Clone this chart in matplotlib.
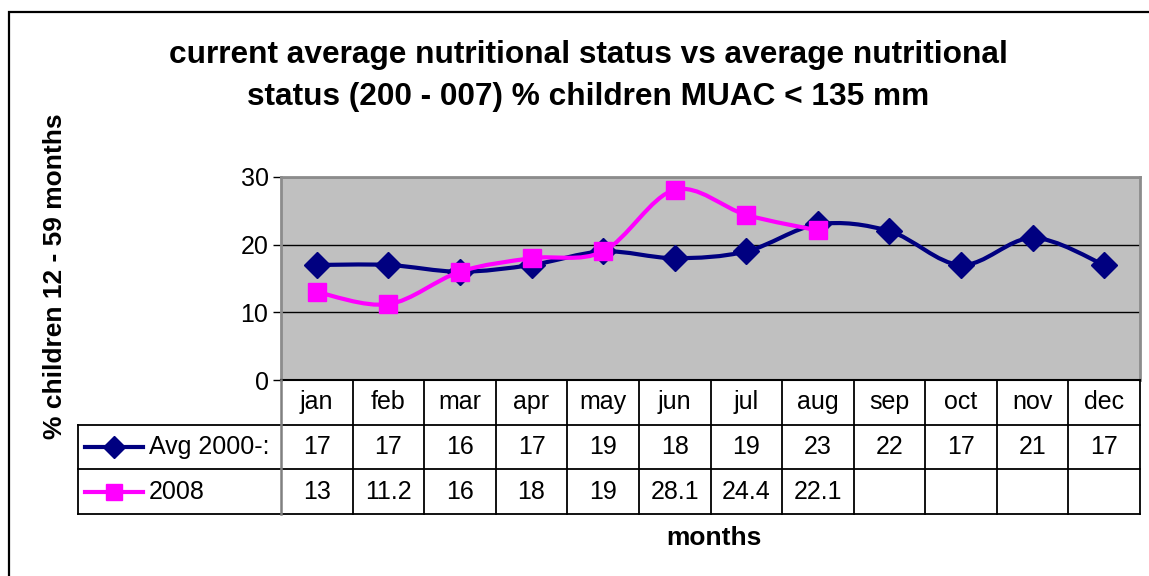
import matplotlib.pyplot as plt
import numpy as np
from matplotlib.path import Path
from matplotlib.patches import PathPatch, Rectangle
from matplotlib.lines import Line2D

plt.rcParams['font.family'] = ['Liberation Sans', 'DejaVu Sans']

months = ['jan', 'feb', 'mar', 'apr', 'may', 'jun', 'jul', 'aug', 'sep', 'oct', 'nov', 'dec']
avg_label = 'Avg 2000-:'
avg = [17, 17, 16, 17, 19, 18, 19, 23, 22, 17, 21, 17]
y2008_label = '2008'
y2008 = [13, 11.2, 16, 18, 19, 28.1, 24.4, 22.1]
yticks = [0, 10, 20, 30]

title = 'current average nutritional status vs average nutritional\nstatus (200 - 007) % children MUAC < 135 mm'
ylabel = '% children 12 - 59 months'
xlabel = 'months'

NAVY = '#000080'
MAG = '#FF00FF'
FS = 18

W, H = 1149, 576
fig = plt.figure(figsize=(W / 100, H / 100), dpi=100)

# outer frame (right and bottom run off the image)
fig.patches.append(Rectangle((9 / W, -0.1), 1.2, 1 - 12 / H + 0.1, transform=fig.transFigure,
                             fill=False, edgecolor='black', linewidth=1.6, clip_on=False))

# plot area in pixels
L, R, T, B = 281, 1140, 177, 380
ax = fig.add_axes([L / W, 1 - B / H, (R - L) / W, (B - T) / H])
ax.set_facecolor('#C0C0C0')
ax.set_xlim(-0.5, len(months) - 0.5)
ax.set_ylim(0, 30)
ax.set_yticks(yticks)
ax.set_yticklabels([str(t) for t in yticks], fontsize=FS)
ax.set_xticks([])
ax.tick_params(axis='y', length=6, width=1, pad=3, direction='out')
for y in yticks[1:]:
    ax.axhline(y, color='black', lw=1, zorder=1)
for s in ['top', 'right', 'left']:
    ax.spines[s].set_color('#8c8c8c')
    ax.spines[s].set_linewidth(2)
ax.spines['bottom'].set_color('black')
ax.spines['bottom'].set_linewidth(1.5)


def smooth_path(xs, ys):
    pts = np.column_stack([xs, ys]).astype(float)
    n = len(pts)
    verts = [pts[0]]
    codes = [Path.MOVETO]
    for i in range(n - 1):
        p0 = pts[max(i - 1, 0)]
        p1 = pts[i]
        p2 = pts[i + 1]
        p3 = pts[min(i + 2, n - 1)]
        c1 = p1 + (p2 - p0) / 6
        c2 = p2 - (p3 - p1) / 6
        verts += [c1, c2, p2]
        codes += [Path.CURVE4] * 3
    return Path(verts, codes)


x_avg = np.arange(len(avg))
x_08 = np.arange(len(y2008))
ax.add_patch(PathPatch(smooth_path(x_avg, avg), fill=False, edgecolor=NAVY, lw=3, zorder=3,
                       capstyle='round', joinstyle='round'))
ax.plot(x_avg, avg, ls='none', marker='D', ms=13.5, color=NAVY, zorder=4)
ax.add_patch(PathPatch(smooth_path(x_08, y2008), fill=False, edgecolor=MAG, lw=3, zorder=5,
                       capstyle='round', joinstyle='round'))
ax.plot(x_08, y2008, ls='none', marker='s', ms=13.5, color=MAG, zorder=6)

# data table below the plot
TL, TB = 78, 514
colw = (R - L) / len(months)
tab = fig.add_axes([TL / W, 1 - TB / H, (R - TL) / W, (TB - B) / H])
left_u = -0.5 - (L - TL) / colw
tab.set_xlim(left_u, len(months) - 0.5)
tab.set_ylim(3, 0)
tab.axis('off')

lk = dict(color='black', lw=1.3, clip_on=False)
tab.plot([-0.5, len(months) - 0.5], [0, 0], **lk)
for r in [1, 2, 3]:
    tab.plot([left_u, len(months) - 0.5], [r, r], **lk)
tab.plot([left_u, left_u], [1, 3], **lk)
tab.plot([-0.5, -0.5], [0, 3], color='#808080', lw=1.8, clip_on=False)
for k in range(1, len(months) + 1):
    tab.plot([k - 0.5, k - 0.5], [0, 3], **lk)

for i, m in enumerate(months):
    tab.text(i, 0.5, m, ha='center', va='center', fontsize=FS)
for i, v in enumerate(avg):
    tab.text(i, 1.5, f'{v:g}', ha='center', va='center', fontsize=FS)
for i, v in enumerate(y2008):
    tab.text(i, 2.5, f'{v:g}', ha='center', va='center', fontsize=FS)


def px2u(px):
    return -0.5 + (px - L) / colw


for row, lab, col, mk in [(1.5, avg_label, NAVY, 'D'), (2.5, y2008_label, MAG, 's')]:
    tab.add_line(Line2D([px2u(85), px2u(143)], [row, row], color=col, lw=3, clip_on=False))
    tab.plot([px2u(114)], [row], marker=mk, ms=11, color=col, clip_on=False)
    tab.text(px2u(149), row, lab, ha='left', va='center', fontsize=FS)

fig.text(588 / W, 1 - 76 / H, title, ha='center', va='center', fontsize=22.8,
         fontweight='bold', linespacing=1.5)
fig.text(55 / W, 1 - 276 / H, ylabel, ha='center', va='center', rotation=90,
         fontsize=19, fontweight='bold')
fig.text(714 / W, 1 - 538 / H, xlabel, ha='center', va='center', fontsize=19,
         fontweight='bold')

fig.savefig('out.png', dpi=100)
